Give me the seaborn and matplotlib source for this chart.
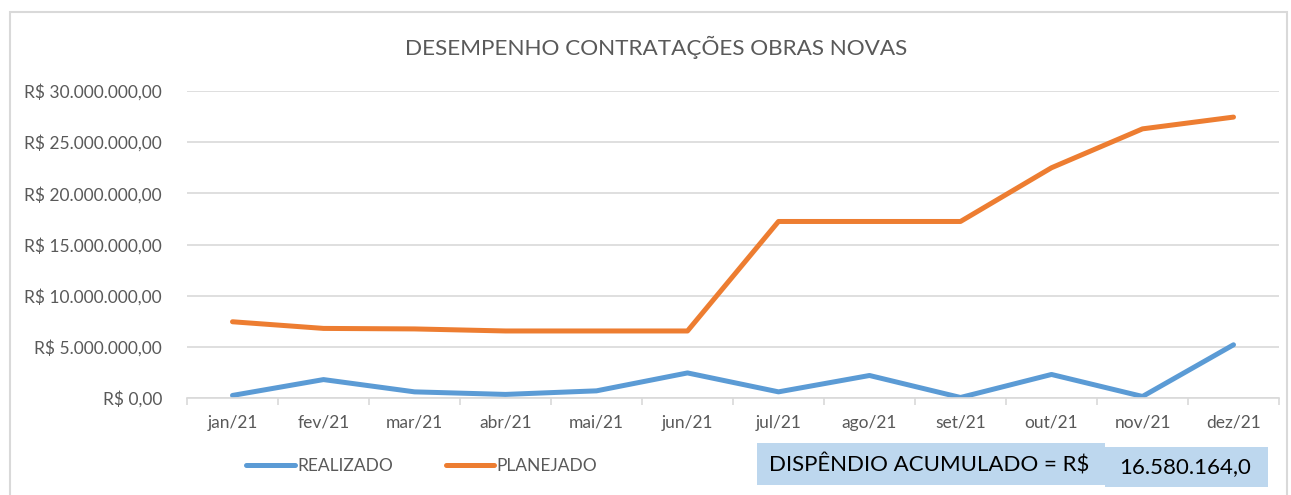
import pandas as pd
import matplotlib
matplotlib.use('Agg')
import matplotlib.pyplot as plt
import matplotlib.patches as patches
from matplotlib.lines import Line2D
from matplotlib.ticker import FuncFormatter, MultipleLocator
import seaborn as sns

# --- Dados ---
meses = ['jan/21', 'fev/21', 'mar/21', 'abr/21', 'mai/21', 'jun/21',
         'jul/21', 'ago/21', 'set/21', 'out/21', 'nov/21', 'dez/21']
realizado = [250000, 1800000, 600000, 350000, 700000, 2450000,
             600000, 2200000, 50000, 2300000, 150000, 5200000]
planejado = [7450000, 6800000, 6750000, 6550000, 6550000, 6550000,
             17250000, 17250000, 17250000, 22500000, 26300000, 27450000]
series = ['REALIZADO', 'PLANEJADO']
cores = {'REALIZADO': '#5B9BD5', 'PLANEJADO': '#ED7D31'}
titulo = 'DESEMPENHO CONTRATAÇÕES OBRAS NOVAS'
texto_caixa = 'DISPÊNDIO ACUMULADO = R$'
valor_caixa = '16.580.164,0'


def formatar_real(v, pos):
    # formato brasileiro: R$ 30.000.000,00
    s = f'{v:,.2f}'.replace(',', 'X').replace('.', ',').replace('X', '.')
    return f'R$ {s}'


sns.set_theme(style='white')
plt.rcParams['font.family'] = ['Lato', 'DejaVu Sans']

df = pd.DataFrame({
    'Mes': meses * 2,
    'x': list(range(len(meses))) * 2,
    'Valor': realizado + planejado,
    'Serie': [series[0]] * len(meses) + [series[1]] * len(meses),
})

W, H = 1291, 495
fig = plt.figure(figsize=(W / 100, H / 100), dpi=100)
ax = fig.add_axes([187 / W, 1 - 398 / H, (1279 - 187) / W, (398 - 91) / H])

sns.lineplot(data=df, x='x', y='Valor', hue='Serie', palette=cores,
             linewidth=3.6, ax=ax, legend=False, solid_capstyle='round')

ax.set_xlim(-0.5, len(meses) - 0.5)
ax.set_ylim(0, 30000000)
ax.yaxis.set_major_locator(MultipleLocator(5000000))
ax.yaxis.set_major_formatter(FuncFormatter(formatar_real))
ax.set_xticks(range(len(meses)))
ax.set_xticklabels(meses)
ax.set_xticks([i - 0.5 for i in range(len(meses) + 1)], minor=True)
ax.set_xlabel('')
ax.set_ylabel('')

ax.grid(axis='y', color='#D9D9D9', linewidth=1.2)
ax.set_axisbelow(True)
for lado in ['top', 'right', 'left']:
    ax.spines[lado].set_visible(False)
ax.spines['bottom'].set_color('#D9D9D9')
ax.spines['bottom'].set_linewidth(1.2)
ax.tick_params(axis='x', which='major', length=0, pad=12, labelsize=12.5, labelcolor='#595959')
ax.tick_params(axis='x', which='minor', length=5, width=1.2, color='#D9D9D9', bottom=True)
ax.tick_params(axis='y', length=0, pad=18, labelsize=12.5, labelcolor='#595959')

fig.text(656 / W, 1 - 47 / H, titulo, ha='center', va='center',
         fontsize=16.2, color='#595959')

# legenda
handles = [Line2D([0], [0], color=cores[s], linewidth=3.6, solid_capstyle='round') for s in series]
fig.legend(handles, series, loc='center', bbox_to_anchor=(422 / W, 1 - 466 / H),
           ncol=2, frameon=False, fontsize=12.5, handlelength=2.8, handletextpad=0.15,
           columnspacing=3.0, labelcolor='#595959')

# moldura do gráfico
fig.patches.append(patches.Rectangle((10 / W, -0.1), (1287 - 10) / W, 1.1 - 12 / H,
                                     transform=fig.transFigure, fill=False,
                                     edgecolor='#D9D9D9', linewidth=1.5))

# caixa de dispêndio acumulado
fig.patches.append(patches.Rectangle((757 / W, 1 - 485 / H), (1105 - 757) / W, (485 - 443) / H,
                                     transform=fig.transFigure, facecolor='#BDD7EE',
                                     edgecolor='none'))
fig.patches.append(patches.Rectangle((1105 / W, 1 - 487 / H), (1268 - 1105) / W, (487 - 447) / H,
                                     transform=fig.transFigure, facecolor='#BDD7EE',
                                     edgecolor='none'))
fig.text(929 / W, 1 - 465 / H, texto_caixa, ha='center', va='center', fontsize=16, color='black')
fig.text(1185 / W, 1 - 467 / H, valor_caixa, ha='center', va='center', fontsize=16, color='black')

fig.savefig('out.png', dpi=100)
print("Gráfico salvo: 'out.png'")
